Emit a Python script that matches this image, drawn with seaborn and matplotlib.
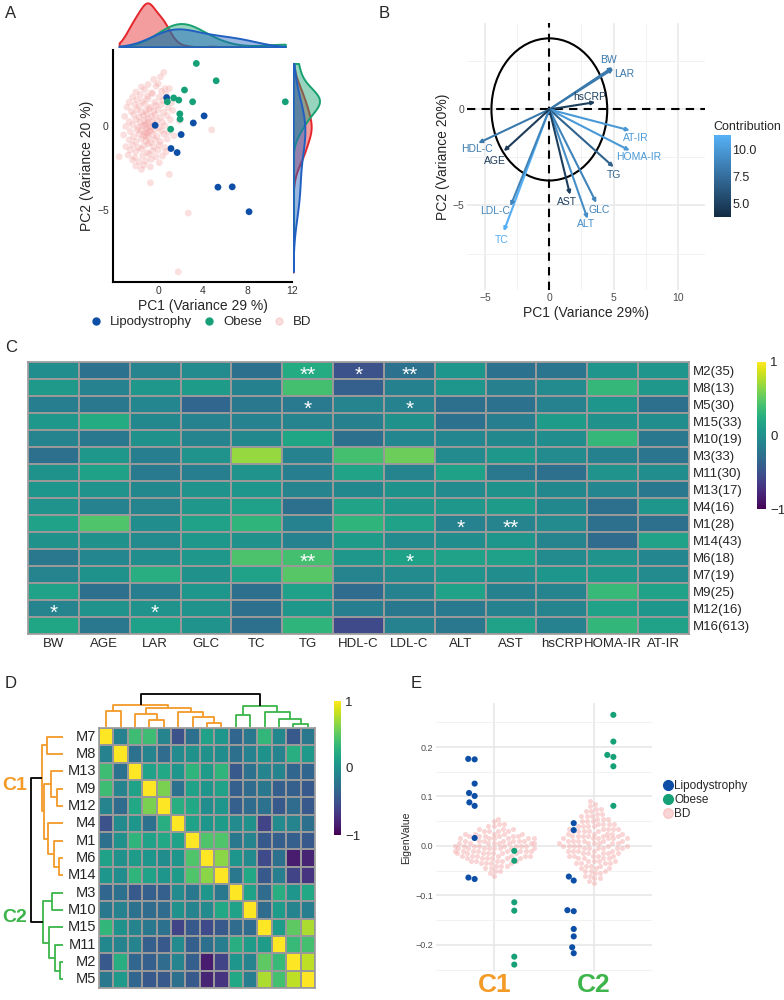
import numpy as np
import pandas as pd
import seaborn as sns
import matplotlib.pyplot as plt
from matplotlib.patches import Ellipse
from matplotlib.lines import Line2D
from matplotlib.colors import LinearSegmentedColormap, Normalize
import matplotlib.cm as cm

# ---------------- data ----------------
# Panel A: PCA scores
lipo_pc1 = [0.76, 4.12, 3.15, 2.06, 1.15, 1.70, 5.36, 6.64, 8.15, -0.27]
lipo_pc2 = [1.67, 0.58, 0.16, -0.53, -1.36, -1.60, -3.66, -3.64, -5.12, 0.02]
obese_pc1 = [3.42, 5.20, 2.36, 1.39, 1.85, 0.82, 3.09, 11.40, 1.94, 1.97, 1.12]
obese_pc2 = [3.70, 2.67, 2.12, 1.65, 1.52, 1.42, 1.42, 1.42, 0.70, 0.39, -0.21]
bd_pc1 = [0.5, -0.4, 0.2, -1.5, -0.9, -0.2, 0.0, 0.6, -2.0, -1.2, -0.6, 0.3, 1.0,
          -2.3, -1.6, -1.0, -0.5, 0.1, 0.7, -2.6, -1.9, -1.4, -0.9, -0.3, 0.4, 1.2,
          -2.8, -2.1, -1.7, -1.2, -0.7, -0.2, 0.3, 0.9, -2.4, -1.9, -1.5, -1.1, -0.8,
          -0.4, 0.0, 0.5, 1.3, -3.0, -2.2, -1.7, -1.3, -1.0, -0.6, -0.3, 0.2, 0.8,
          -2.6, -2.0, -1.6, -1.2, -0.9, -0.5, -0.1, 0.4, 1.1, 1.9, -2.9, -2.3, -1.8,
          -1.4, -1.1, -0.8, -0.4, 0.1, 0.6, -2.5, -1.9, -1.5, -1.2, -1.0, -0.7, -0.3,
          0.3, 0.9, 4.8, -3.1, -2.2, -1.7, -1.3, -0.9, -0.5, -0.1, 0.5, 1.4, -2.6,
          -2.0, -1.5, -1.1, -0.7, -0.3, 0.2, 0.8, -2.9, -2.3, -1.8, -1.3, -0.9, -0.4,
          0.1, 0.6, -2.5, -2.0, -1.5, -1.0, -0.5, 0.0, 0.7, -3.5, -2.7, -2.1, -1.4,
          -0.8, -0.2, 0.4, -2.3, -1.7, -1.1, -0.6, 0.1, -2.0, -1.3, -0.7, -1.5, 1.0,
          -0.7, 2.7, 1.8, -1.0, -0.8, -1.2, -0.9, -1.1, -0.6]
bd_pc2 = [3.17, 2.75, 2.9, 2.3, 2.45, 2.35, 2.5, 2.2, 2.0, 2.15, 1.95, 2.05, 2.2,
          1.7, 1.85, 1.75, 1.9, 1.7, 1.85, 1.4, 1.55, 1.45, 1.6, 1.4, 1.5, 1.35,
          1.1, 1.25, 1.15, 1.3, 1.1, 1.2, 1.25, 1.05, 0.85, 0.95, 0.8, 0.9, 1.0,
          0.85, 0.95, 0.8, 0.9, 0.55, 0.65, 0.5, 0.6, 0.7, 0.55, 0.65, 0.5, 0.6,
          0.25, 0.35, 0.2, 0.3, 0.4, 0.25, 0.3, 0.2, 0.35, 0.3, -0.05, 0.05, -0.1,
          0.0, 0.1, -0.05, 0.05, -0.1, 0.0, -0.35, -0.25, -0.3, -0.4, -0.2, -0.35, -0.25,
          -0.3, -0.4, -0.25, -0.55, -0.65, -0.5, -0.6, -0.7, -0.55, -0.65, -0.5, -0.6, -0.85,
          -0.95, -0.8, -0.9, -1.0, -0.85, -0.95, -0.8, -1.25, -1.15, -1.3, -1.2, -1.1, -1.25,
          -1.15, -1.3, -1.45, -1.55, -1.4, -1.6, -1.5, -1.45, -1.55, -1.85, -1.75, -1.9, -1.8,
          -1.7, -1.85, -1.8, -2.05, -2.15, -2.1, -2.0, -2.2, -2.4, -2.35, -2.45, -2.6, -2.9,
          -3.4, -5.2, -8.7, -0.45, -0.3, 0.0, 0.2, -0.6, -0.1]

# Panel B: variable loadings
vars_b = ["BW", "LAR", "hsCRP", "AT-IR", "HOMA-IR", "TG", "GLC", "ALT", "AST",
          "TC", "LDL-C", "HDL-C", "AGE"]
load_x = [4.92, 4.98, 3.57, 6.25, 6.25, 5.0, 3.65, 2.97, 1.61, -3.54, -3.02, -5.52, -3.54]
load_y = [2.2, 2.12, 0.38, -1.09, -2.14, -3.0, -4.86, -5.69, -4.44, -6.34, -5.03, -1.75, -2.17]
contrib = [8.2, 8.2, 4.8, 10.0, 10.0, 6.9, 8.8, 9.4, 4.9, 11.3, 8.8, 8.2, 4.7]
lab_dx = [-0.3, 0.8, -0.4, 0.5, 0.7, 0.0, 0.2, -0.1, -0.2, -0.2, -1.2, -0.1, -0.7]
lab_dy = [0.35, -0.3, 0.27, -0.4, -0.35, -0.4, -0.35, -0.3, -0.4, -0.45, -0.27, -0.3, -0.5]

# Panel C: module-trait correlations
traits = ["BW", "AGE", "LAR", "GLC", "TC", "TG", "HDL-C", "LDL-C", "ALT", "AST",
          "hsCRP", "HOMA-IR", "AT-IR"]
modules_c = ["M2(35)", "M8(13)", "M5(30)", "M15(33)", "M10(19)", "M3(33)", "M11(30)",
             "M13(17)", "M4(16)", "M1(28)", "M14(43)", "M6(18)", "M7(19)", "M9(25)",
             "M12(16)", "M16(613)"]
corr_c = [
    [-0.02, -0.25, -0.10, -0.05, -0.27, 0.22, -0.50, -0.25, 0.05, -0.25, -0.22, 0.04, 0.04],
    [0.08, -0.12, 0.07, 0.10, -0.13, 0.40, -0.40, -0.13, 0.05, -0.14, -0.05, 0.33, 0.06],
    [-0.15, -0.20, -0.08, -0.35, -0.20, -0.18, -0.10, -0.12, -0.27, -0.25, -0.12, 0.05, -0.27],
    [0.06, 0.22, -0.07, -0.12, -0.12, -0.10, -0.14, 0.00, -0.25, -0.15, 0.10, 0.00, -0.03],
    [-0.10, -0.20, 0.00, -0.10, -0.07, 0.18, -0.27, -0.08, -0.08, -0.07, -0.02, 0.33, -0.20],
    [-0.27, 0.07, -0.15, 0.03, 0.68, -0.12, 0.40, 0.55, -0.05, 0.07, -0.05, -0.13, -0.22],
    [0.02, 0.14, -0.18, -0.15, 0.03, -0.15, 0.16, -0.10, 0.14, -0.20, -0.27, 0.03, -0.02],
    [0.05, 0.03, -0.07, 0.03, 0.05, -0.10, -0.07, 0.02, -0.05, 0.02, -0.07, -0.08, -0.20],
    [0.03, -0.12, -0.10, 0.06, 0.13, -0.27, 0.16, 0.06, 0.06, 0.10, -0.07, -0.27, 0.05],
    [0.15, 0.45, -0.02, 0.15, 0.30, -0.12, 0.30, 0.15, -0.12, -0.10, -0.05, -0.27, -0.27],
    [0.00, 0.00, -0.05, 0.06, 0.00, -0.12, 0.10, -0.05, -0.02, 0.05, -0.10, -0.30, 0.15],
    [-0.20, -0.08, -0.02, 0.06, 0.43, 0.40, 0.06, 0.14, 0.15, 0.13, -0.05, 0.03, -0.08],
    [-0.10, 0.02, 0.25, 0.00, 0.15, 0.47, -0.10, -0.05, 0.03, -0.03, 0.05, 0.06, -0.05],
    [0.15, -0.27, -0.15, 0.05, -0.27, 0.13, -0.30, -0.12, 0.15, -0.13, -0.10, 0.35, 0.15],
    [-0.10, 0.03, 0.03, 0.03, -0.27, 0.06, -0.15, -0.20, -0.18, -0.12, -0.10, 0.15, 0.05],
    [0.18, -0.20, 0.13, 0.03, -0.27, 0.30, -0.55, -0.12, -0.20, 0.15, -0.12, 0.32, 0.15],
]
# significance marks: (row, column, stars)
sig_c = [("M2(35)", "TG", "**"), ("M2(35)", "HDL-C", "*"), ("M2(35)", "LDL-C", "**"),
         ("M5(30)", "TG", "*"), ("M5(30)", "LDL-C", "*"),
         ("M1(28)", "ALT", "*"), ("M1(28)", "AST", "**"),
         ("M6(18)", "TG", "**"), ("M6(18)", "LDL-C", "*"),
         ("M12(16)", "BW", "*"), ("M12(16)", "LAR", "*")]

# Panel D: module-module correlations (clustered order)
modules_d = ["M7", "M8", "M13", "M9", "M12", "M4", "M1", "M6", "M14", "M3", "M10",
             "M15", "M11", "M2", "M5"]
corr_d = [
    [1, -0.12, 0.38, 0.38, -0.10, -0.50, -0.27, 0.15, 0.05, -0.35, -0.20, 0.32, -0.07, -0.45, -0.20],
    [-0.12, 1, -0.25, -0.10, -0.30, -0.05, 0.00, 0.00, -0.02, -0.27, -0.12, 0.02, -0.10, 0.25, 0.08],
    [0.38, -0.25, 1, 0.15, 0.20, 0.05, 0.30, 0.10, 0.30, -0.45, -0.25, -0.10, -0.10, -0.35, -0.35],
    [0.38, -0.10, 0.15, 1, 0.60, -0.25, 0.15, 0.05, 0.15, -0.40, -0.30, -0.20, -0.40, -0.40, -0.45],
    [-0.10, -0.30, 0.20, 0.60, 1, 0.25, 0.20, -0.02, 0.05, -0.40, -0.30, -0.25, -0.45, -0.30, -0.45],
    [-0.50, -0.05, 0.05, -0.25, 0.25, 1, 0.15, 0.05, 0.10, -0.05, 0.00, -0.60, -0.05, -0.10, -0.27],
    [-0.27, 0.00, 0.30, 0.15, 0.20, 0.15, 1, 0.45, 0.45, -0.20, -0.10, -0.45, -0.40, -0.40, -0.45],
    [0.15, 0.00, 0.10, 0.05, -0.02, 0.05, 0.45, 1, 0.65, 0.05, -0.05, -0.55, -0.27, -0.85, -0.80],
    [0.05, -0.02, 0.30, 0.15, 0.05, 0.10, 0.45, 0.65, 1, -0.20, 0.20, -0.45, -0.15, -0.60, -0.70],
    [-0.35, -0.27, -0.45, -0.40, -0.40, -0.05, -0.20, 0.05, -0.20, 1, 0.15, -0.30, 0.25, 0.05, 0.20],
    [-0.20, -0.12, -0.25, -0.30, -0.30, 0.00, -0.10, -0.05, 0.20, 0.15, 1, -0.30, 0.10, -0.10, -0.15],
    [0.32, 0.02, -0.10, -0.20, -0.25, -0.60, -0.45, -0.55, -0.45, -0.30, -0.30, 1, 0.10, 0.50, 0.75],
    [-0.07, -0.10, -0.10, -0.40, -0.45, -0.05, -0.40, -0.27, -0.15, 0.25, 0.10, 0.10, 1, 0.35, 0.40],
    [-0.45, 0.25, -0.35, -0.40, -0.30, -0.10, -0.40, -0.85, -0.60, 0.05, -0.10, 0.50, 0.35, 1, 0.80],
    [-0.20, 0.08, -0.35, -0.45, -0.45, -0.27, -0.45, -0.80, -0.70, 0.20, -0.15, 0.75, 0.40, 0.80, 1],
]
# dendrogram: (height, left, right)
tree = (1.0,
        (0.66, (0.50, "M7", "M8"),
               (0.58, (0.38, "M13", (0.20, "M9", "M12")),
                      (0.46, "M4", (0.29, "M1", (0.13, "M6", "M14"))))),
        (0.63, (0.35, "M3", "M10"),
               (0.45, "M15", (0.24, "M11", (0.10, "M2", "M5")))))

# Panel E: eigengene values
lipo_c1 = [0.176, 0.175, 0.126, 0.107, 0.101, 0.088, 0.081, 0.016, -0.064, -0.067]
obese_c1 = [-0.010, -0.030, -0.114, -0.131, -0.224, -0.240]
lipo_c2 = [0.046, 0.032, -0.062, -0.070, -0.130, -0.132, -0.168, -0.183, -0.205, -0.217]
obese_c2 = [0.265, 0.211, 0.184, 0.180, 0.161, 0.081]
bd_c1_bins = [0.055, 0.05, 0.045, 0.04, 0.035, 0.03, 0.025, 0.02, 0.015, 0.01, 0.005, 0.0,
              -0.005, -0.01, -0.015, -0.02, -0.025, -0.03, -0.035, -0.04, -0.045, -0.05,
              -0.055, -0.06]
bd_c1_counts = [1, 1, 2, 2, 3, 4, 5, 6, 7, 7, 8, 8, 8, 8, 7, 7, 6, 5, 4, 3, 2, 2, 1, 1]
bd_c2_bins = [0.09, 0.085, 0.08, 0.075, 0.07, 0.065, 0.06, 0.055, 0.05, 0.045, 0.04, 0.035,
              0.03, 0.025, 0.02, 0.015, 0.01, 0.005, 0.0, -0.005, -0.01, -0.015, -0.02,
              -0.025, -0.03, -0.035, -0.04, -0.045, -0.05, -0.055, -0.06, -0.065, -0.07,
              -0.075]
bd_c2_counts = [1, 1, 1, 2, 2, 2, 3, 3, 3, 4, 4, 5, 5, 5, 6, 6, 6, 6, 6, 6, 5, 5, 5, 4, 4,
                4, 3, 3, 3, 2, 2, 2, 1, 1]

# ---------------- style ----------------
sns.set_style("white")
plt.rcParams['font.family'] = ['Liberation Sans', 'DejaVu Sans']

LIPO = '#0d4fa6'
OBESE = '#16a077'
BD_PT = '#f4a3a3'
BD_LINE = '#e5262b'
ORANGE = '#f39a27'
GREEN = '#3db54a'

W, H = 784, 1000
fig = plt.figure(figsize=(W / 100, H / 100), dpi=100)


def px_axes(l, t, r, b, **kw):
    return fig.add_axes([l / W, 1 - b / H, (r - l) / W, (b - t) / H], **kw)


for lab, x, y in [("A", 5, 14), ("B", 379, 14), ("C", 5, 347), ("D", 5, 683), ("E", 411, 683)]:
    fig.text(x / W, 1 - y / H, lab, fontsize=12, va='center', ha='left')

# ---------------- Panel A ----------------
dfA = pd.DataFrame({
    'pc1': lipo_pc1 + obese_pc1 + bd_pc1,
    'pc2': lipo_pc2 + obese_pc2 + bd_pc2,
    'group': ['Lipodystrophy'] * len(lipo_pc1) + ['Obese'] * len(obese_pc1) + ['BD'] * len(bd_pc1),
})
axA = px_axes(113, 50, 292, 282)
sns.scatterplot(data=dfA[dfA.group == 'BD'], x='pc1', y='pc2', color=BD_PT, alpha=0.35,
                s=24, edgecolor='none', ax=axA)
sns.scatterplot(data=dfA[dfA.group != 'BD'], x='pc1', y='pc2', hue='group',
                palette={'Lipodystrophy': LIPO, 'Obese': OBESE}, s=24, edgecolor='none',
                legend=False, ax=axA)
axA.set_xlim(-4.05, 12.0)
axA.set_ylim(-9.3, 4.5)
axA.set_xticks([0, 4, 8, 12])
axA.set_yticks([-5, 0])
axA.tick_params(labelsize=7.5, length=2, pad=1, colors='#333333')
for s in ['top', 'right']:
    axA.spines[s].set_visible(False)
for s in ['left', 'bottom']:
    axA.spines[s].set_linewidth(1.5)
    axA.spines[s].set_color('black')
axA.set_xlabel('PC1 (Variance 29 %)', fontsize=10, labelpad=2)
axA.set_ylabel('PC2 (Variance 20 %)', fontsize=10, labelpad=2)

kde_pal = {'Lipodystrophy': '#2060c0', 'Obese': '#18a070', 'BD': BD_LINE}
axT = px_axes(113, 2, 292, 47, sharex=axA)
sns.kdeplot(data=dfA, x='pc1', hue='group', hue_order=['Lipodystrophy', 'Obese', 'BD'],
            palette=kde_pal, fill=True, common_norm=False, cut=10,
            clip=(min(dfA.pc1), max(dfA.pc1)), alpha=0.45, linewidth=1.4, legend=False, ax=axT)
axT.set_ylim(0, axT.get_ylim()[1] / 1.03)
axT.axis('off')
axR = px_axes(293, 50, 320, 282, sharey=axA)
sns.kdeplot(data=dfA, y='pc2', hue='group', hue_order=['Lipodystrophy', 'Obese', 'BD'],
            palette=kde_pal, fill=True, common_norm=False, cut=10,
            clip=(min(dfA.pc2), max(dfA.pc2)), alpha=0.45, linewidth=1.4, legend=False, ax=axR)
axR.set_xlim(0, axR.get_xlim()[1] / 1.03)
axR.axis('off')
axA.set_xlim(-4.05, 12.0)
axA.set_ylim(-9.3, 4.5)

handA = [Line2D([], [], marker='o', ls='', color=LIPO, markersize=5),
         Line2D([], [], marker='o', ls='', color=OBESE, markersize=5),
         Line2D([], [], marker='o', ls='', color=BD_PT, alpha=0.35, markersize=5)]
fig.legend(handA, ['Lipodystrophy', 'Obese', 'BD'], loc='center',
           bbox_to_anchor=(197 / W, 1 - 322 / H), ncol=3, frameon=False, fontsize=9.5,
           handletextpad=0.05, columnspacing=0.3, borderaxespad=0)

# ---------------- Panel B ----------------
axB = px_axes(467, 23, 705, 290)
axB.set_xlim(-6.4, 12.1)
axB.set_ylim(-9.4, 4.5)
axB.set_xticks([-5, 0, 5, 10])
axB.set_xticks([-2.5, 2.5, 7.5], minor=True)
axB.set_yticks([-5, 0])
axB.set_yticks([2.5, -2.5, -7.5], minor=True)
axB.grid(which='major', color='#e8e8e8', lw=1.1)
axB.grid(which='minor', color='#f0f0f0', lw=0.6)
axB.set_axisbelow(True)
for s in axB.spines.values():
    s.set_visible(False)
axB.tick_params(which='both', length=0, labelsize=7.5, colors='#4d4d4d', pad=2)
axB.set_xlabel('PC1 (Variance 29%)', fontsize=10, labelpad=2)
axB.set_ylabel('PC2 (Variance 20%)', fontsize=10, labelpad=2)
axB.add_patch(Ellipse((0, 0), width=9.0, height=7.4, fill=False, color='black', lw=1.5))
axB.axhline(0, color='black', ls=(0, (4, 3)), lw=1.5)
axB.axvline(0, color='black', ls=(0, (4, 3)), lw=1.5)
cmapB = LinearSegmentedColormap.from_list('gg', ['#132B43', '#56B1F7'])
normB = Normalize(3.7, 11.4)
for v, x, y, c, dx, dy in zip(vars_b, load_x, load_y, contrib, lab_dx, lab_dy):
    col = cmapB(normB(c))
    axB.annotate('', xy=(x, y), xytext=(0, 0),
                 arrowprops=dict(arrowstyle='-|>', color=col, lw=1.5, mutation_scale=5,
                                 shrinkA=0, shrinkB=0))
    axB.text(x + dx, y + dy, v, color=col, fontsize=7.5, ha='center', va='center')
caxB = px_axes(714, 135, 731, 217)
cbB = fig.colorbar(cm.ScalarMappable(norm=normB, cmap=cmapB), cax=caxB)
cbB.outline.set_visible(False)
cbB.set_ticks([5, 7.5, 10])
cbB.set_ticklabels(['5.0', '7.5', '10.0'])
cbB.ax.tick_params(labelsize=9, length=0, pad=1)
fig.text(713 / W, 1 - 127 / H, 'Contribution', fontsize=9, va='center', ha='left')

# ---------------- Panel C ----------------
dfC = pd.DataFrame(corr_c, index=modules_c, columns=traits)
starsC = pd.DataFrame('', index=modules_c, columns=traits)
for r, c, s in sig_c:
    starsC.loc[r, c] = s
axC = px_axes(28, 362, 689, 634)
caxC = px_axes(757, 362, 766, 509)
sns.heatmap(dfC, cmap='viridis', vmin=-1, vmax=1, linewidths=1.2, linecolor='#999999',
            annot=starsC.values, fmt='', annot_kws=dict(color='white', fontsize=15),
            cbar_ax=caxC, ax=axC)
for t in axC.texts:
    px, py = t.get_position()
    t.set_position((px, py + 0.28))
axC.yaxis.tick_right()
axC.set_yticklabels(modules_c, rotation=0, fontsize=9.5)
axC.set_xticklabels(traits, rotation=0, fontsize=9.5)
axC.tick_params(length=0, pad=3)
axC.set_xlabel('')
axC.set_ylabel('')
for s in axC.spines.values():
    s.set_visible(True)
    s.set_color('#999999')
    s.set_linewidth(1.2)
cbC = axC.collections[0].colorbar
cbC.outline.set_visible(False)
cbC.set_ticks([-1, 0, 1])
cbC.set_ticklabels(['\u22121', '0', '1'])
cbC.ax.tick_params(labelsize=9.5, length=0, pad=3)

# ---------------- Panel D ----------------
dfD = pd.DataFrame(corr_d, index=modules_d, columns=modules_d)
axD = px_axes(99, 728, 315, 988)
caxD = px_axes(334, 701, 341, 835)
sns.heatmap(dfD, cmap='viridis', vmin=-1, vmax=1, linewidths=1.2, linecolor='#999999',
            xticklabels=False, yticklabels=modules_d, cbar_ax=caxD, ax=axD)
axD.set_yticklabels(modules_d, rotation=0, fontsize=10.5)
axD.tick_params(length=0, pad=2)
for s in axD.spines.values():
    s.set_visible(True)
    s.set_color('#999999')
    s.set_linewidth(1.2)
cbD = axD.collections[0].colorbar
cbD.outline.set_visible(False)
cbD.set_ticks([-1, 0, 1])
cbD.set_ticklabels(['\u22121', '0', '1'])
cbD.ax.tick_params(labelsize=9.5, length=0, pad=3)

leaf_pos = {m: i + 0.5 for i, m in enumerate(modules_d)}


def draw_tree(ax, node, clr, rows, sub=None):
    if isinstance(node, str):
        return leaf_pos[node], 0.0
    h, a, b = node
    ka = sub[0] if sub else clr
    kb = sub[1] if sub else clr
    pa, ha = draw_tree(ax, a, ka, rows)
    pb, hb = draw_tree(ax, b, kb, rows)
    ps, hs = [pa, pa, pb, pb], [ha, h, h, hb]
    if rows:
        ax.plot(hs, ps, color=clr, lw=1.3, clip_on=False, solid_capstyle='butt')
    else:
        ax.plot(ps, hs, color=clr, lw=1.3, clip_on=False, solid_capstyle='butt')
    return (pa + pb) / 2, h


axDr = px_axes(31, 728, 63, 988)
draw_tree(axDr, tree, 'black', True, sub=(ORANGE, GREEN))
axDr.set_xlim(1.0, 0)
axDr.set_ylim(15, 0)
axDr.axis('off')
axDt = px_axes(99, 694, 315, 727)
draw_tree(axDt, tree, 'black', False, sub=(ORANGE, GREEN))
axDt.set_xlim(0, 15)
axDt.set_ylim(0, 1.0)
axDt.axis('off')
fig.text(2 / W, 1 - 785 / H, 'C1', color=ORANGE, fontsize=14, fontweight='bold', va='center')
fig.text(2 / W, 1 - 918 / H, 'C2', color=GREEN, fontsize=14, fontweight='bold', va='center')

# ---------------- Panel E ----------------
bd_c1 = np.repeat(bd_c1_bins, bd_c1_counts)
bd_c2 = np.repeat(bd_c2_bins, bd_c2_counts)
dfE_bd = pd.DataFrame({'cluster': ['C1'] * len(bd_c1) + ['C2'] * len(bd_c2),
                       'value': np.concatenate([bd_c1, bd_c2])})
dfE_pt = pd.DataFrame({
    'cluster': ['C1'] * (len(lipo_c1) + len(obese_c1)) + ['C2'] * (len(lipo_c2) + len(obese_c2)),
    'value': lipo_c1 + obese_c1 + lipo_c2 + obese_c2,
    'group': ['Lipodystrophy'] * len(lipo_c1) + ['Obese'] * len(obese_c1)
             + ['Lipodystrophy'] * len(lipo_c2) + ['Obese'] * len(obese_c2),
})
axE = px_axes(436, 703, 652, 972)
sns.swarmplot(data=dfE_bd, x='cluster', y='value', order=['C1', 'C2'], color=BD_PT,
              alpha=0.45, size=3.6, ax=axE)
sns.swarmplot(data=dfE_pt, x='cluster', y='value', order=['C1', 'C2'], hue='group',
              hue_order=['Lipodystrophy', 'Obese'], palette={'Lipodystrophy': LIPO, 'Obese': OBESE},
              dodge=True, size=4.4, legend=False, ax=axE)
axE.set_xlim(-0.59, 1.59)
axE.set_ylim(-0.255, 0.289)
axE.set_yticks([-0.2, -0.1, 0.0, 0.1, 0.2])
axE.set_yticklabels(['\u22120.2', '\u22120.1', '0.0', '0.1', '0.2'])
axE.set_yticks([-0.25, -0.15, -0.05, 0.05, 0.15, 0.25], minor=True)
axE.grid(which='major', color='#e6e6e6', lw=1.1)
axE.grid(which='minor', axis='y', color='#f0f0f0', lw=0.6)
axE.set_axisbelow(True)
for s in axE.spines.values():
    s.set_visible(False)
axE.tick_params(which='both', length=0)
axE.tick_params(axis='y', labelsize=6.5, colors='#4d4d4d', pad=2)
axE.set_xticks([0, 1])
axE.set_xticklabels(['C1', 'C2'], fontsize=19, fontweight='bold')
for tl, c in zip(axE.get_xticklabels(), [ORANGE, GREEN]):
    tl.set_color(c)
axE.tick_params(axis='x', pad=1)
axE.set_xlabel('')
axE.set_ylabel('EigenValue', fontsize=7.5, labelpad=3)
handE = [Line2D([], [], marker='o', ls='', color=LIPO, markersize=7),
         Line2D([], [], marker='o', ls='', color=OBESE, markersize=7),
         Line2D([], [], marker='o', ls='', color=BD_PT, alpha=0.45, markersize=7)]
fig.legend(handE, ['Lipodystrophy', 'Obese', 'BD'], loc='center left',
           bbox_to_anchor=(657 / W, 1 - 800 / H), frameon=False, fontsize=8.5,
           handletextpad=0.05, labelspacing=0.2, handlelength=1.0, borderaxespad=0)

fig.savefig('out.png', dpi=100)
